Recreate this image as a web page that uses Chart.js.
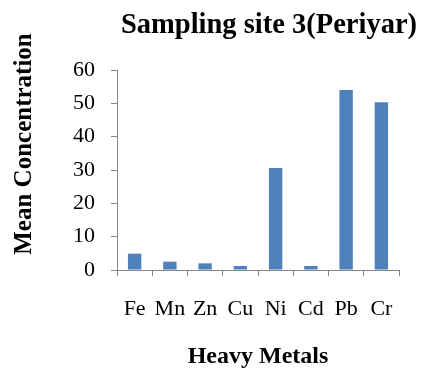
<!DOCTYPE html>
<html>
<head>
<meta charset="utf-8">
<script src="https://cdn.jsdelivr.net/npm/chart.js@4"></script>
<style>
  html, body { margin: 0; padding: 0; background: #fff; }
</style>
</head>
<body>
<canvas id="chart" width="422" height="368"></canvas>
<script>
// data
const metals = ["Fe", "Mn", "Zn", "Cu", "Ni", "Cd", "Pb", "Cr"];
const meanConcentration = [4.9, 2.5, 2.0, 1.2, 30.6, 1.2, 54.0, 50.3];
const yTicks = [0, 10, 20, 30, 40, 50, 60];

const chartTitle = "Sampling site 3(Periyar)";
const xTitle = "Heavy Metals";
const yTitle = "Mean Concentration";

const serif = "'Liberation Serif', 'Times New Roman', serif";
const axisGrey = "#868686";

// titles drawn by hand so they sit where the original has them
const titlePlugin = {
  id: "titles",
  afterDraw(chart) {
    const c = chart.ctx;
    c.save();
    c.fillStyle = "#000";
    c.textAlign = "center";
    c.textBaseline = "alphabetic";
    c.font = "bold 28.5px " + serif;
    c.fillText(chartTitle, 269, 33);
    c.font = "bold 24px " + serif;
    c.fillText(xTitle, 258, 363);
    c.translate(31, 144);
    c.rotate(-Math.PI / 2);
    c.font = "bold 25px " + serif;
    c.fillText(yTitle, 0, 0);
    c.restore();
  },
};

const ctx = document.getElementById("chart").getContext("2d");
new Chart(ctx, {
  type: "bar",
  data: {
    labels: metals,
    datasets: [
      {
        data: meanConcentration,
        backgroundColor: "#4f81bd",
        categoryPercentage: 1,
        barPercentage: 0.38,
      },
    ],
  },
  options: {
    responsive: false,
    animation: false,
    layout: { padding: { top: 70, right: 23, left: 0, bottom: 0 } },
    plugins: {
      legend: { display: false },
      tooltip: { enabled: false },
    },
    scales: {
      x: {
        grid: {
          offset: true,
          drawOnChartArea: false,
          color: axisGrey,
          tickLength: 6,
        },
        border: { color: axisGrey, width: 1 },
        ticks: {
          color: "#000",
          font: { family: serif, size: 22 },
          padding: 20,
          maxRotation: 0,
        },
        afterFit: (s) => { s.height = 98; },
      },
      y: {
        min: 0,
        max: 60,
        afterBuildTicks: (s) => { s.ticks = yTicks.map((v) => ({ value: v })); },
        grid: {
          drawOnChartArea: false,
          color: axisGrey,
          tickLength: 6,
        },
        border: { color: axisGrey, width: 1 },
        ticks: {
          color: "#000",
          font: { family: serif, size: 22 },
          padding: 16,
        },
        afterFit: (s) => { s.width = 117; },
      },
    },
  },
  plugins: [titlePlugin],
});
</script>
</body>
</html>
